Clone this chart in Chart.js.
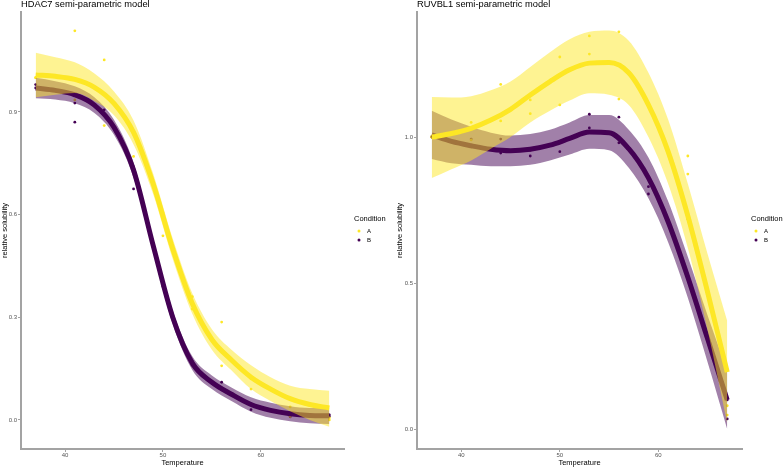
<!DOCTYPE html>
<html>
<head>
<meta charset="utf-8">
<script src="https://cdn.jsdelivr.net/npm/chart.js@4.4.1/dist/chart.umd.min.js"></script>
<style>
html, body { margin: 0; padding: 0; background: #fff; }
#wrap { position: relative; width: 783px; height: 467px; overflow: hidden; }
canvas { position: absolute; top: 0; }
</style>
</head>
<body>
<div id="wrap">
<canvas id="hdac" width="391" height="467" style="left:0"></canvas>
<canvas id="ruvbl" width="392" height="467" style="left:391px"></canvas>
</div>
<script>
// data
const conditions = ['A', 'B'];
const xTicks = [40, 50, 60];
const fitT = [37, 39, 41, 43, 45, 47, 49, 51, 53, 55, 57, 59, 61, 63, 65, 67];
const ptT = [37, 37, 41, 41, 44, 44, 47, 47, 50, 50, 53, 53, 56, 56, 59, 59, 63, 63, 67, 67];

// HDAC7
const hdacYTicks = [0.0, 0.3, 0.6, 0.9];
const hdacPtsA = [1.0, 1.0, 1.137, 0.935, 1.052, 0.86, 0.838, 0.77, 0.605, 0.538, 0.324, 0.36, 0.286, 0.158, 0.12, 0.09, 0.038, 0.01, 0.006, 0.0];
const hdacPtsB = [0.98, 0.97, 0.926, 0.87, 0.906, 0.89, 0.739, 0.675, 0.39, 0.40, 0.17, 0.16, 0.11, 0.088, 0.047, 0.03, 0.02, 0.009, 0.01, 0.015];
const hdacFitA = [1.008, 1.004, 0.995, 0.972, 0.925, 0.84, 0.69, 0.50, 0.34, 0.235, 0.175, 0.125, 0.09, 0.062, 0.045, 0.035];
const hdacHiA = [1.073, 1.06, 1.045, 1.012, 0.96, 0.875, 0.72, 0.53, 0.37, 0.265, 0.205, 0.16, 0.125, 0.10, 0.09, 0.085];
const hdacLoA = [0.943, 0.95, 0.955, 0.932, 0.89, 0.805, 0.66, 0.47, 0.31, 0.205, 0.145, 0.09, 0.055, 0.025, 0.0, -0.02];
const hdacFitB = [0.97, 0.963, 0.95, 0.92, 0.855, 0.73, 0.51, 0.30, 0.166, 0.11, 0.075, 0.045, 0.028, 0.018, 0.013, 0.012];
const hdacHiB = [1.0, 0.99, 0.975, 0.943, 0.877, 0.752, 0.53, 0.32, 0.186, 0.13, 0.095, 0.066, 0.05, 0.04, 0.035, 0.035];
const hdacLoB = [0.94, 0.936, 0.925, 0.897, 0.833, 0.708, 0.49, 0.28, 0.146, 0.09, 0.055, 0.024, 0.006, -0.004, -0.01, -0.012];

// RUVBL1
const ruvYTicks = [0.0, 0.5, 1.0];
const ruvPtsA = [1.0, 1.0, 1.05, 0.99, 1.18, 1.055, 1.127, 1.08, 1.274, 1.11, 1.346, 1.284, 1.36, 1.13, 1.116, 0.856, 0.935, 0.873, 0.08, 0.048];
const ruvPtsB = [1.0, 1.0, 0.993, 0.97, 0.993, 0.945, 0.955, 0.935, 0.983, 0.95, 1.078, 1.031, 1.068, 0.98, 0.83, 0.805, 0.72, 0.516, 0.1, 0.035];
const ruvFitA = [1.0, 1.012, 1.03, 1.058, 1.095, 1.144, 1.19, 1.23, 1.253, 1.255, 1.22, 1.11, 0.95, 0.73, 0.47, 0.195];
const ruvHiA = [1.137, 1.135, 1.14, 1.16, 1.19, 1.24, 1.29, 1.335, 1.36, 1.365, 1.33, 1.22, 1.06, 0.84, 0.6, 0.37];
const ruvLoA = [0.86, 0.89, 0.92, 0.96, 1.0, 1.05, 1.09, 1.125, 1.15, 1.145, 1.11, 1.0, 0.84, 0.62, 0.34, 0.02];
const ruvFitB = [1.007, 0.985, 0.97, 0.958, 0.953, 0.958, 0.972, 0.995, 1.017, 1.015, 0.96, 0.86, 0.71, 0.52, 0.31, 0.1];
const ruvHiB = [1.09, 1.06, 1.035, 1.015, 1.005, 1.01, 1.025, 1.05, 1.075, 1.075, 1.025, 0.93, 0.78, 0.59, 0.39, 0.2];
const ruvLoB = [0.925, 0.91, 0.905, 0.9, 0.9, 0.905, 0.92, 0.94, 0.96, 0.955, 0.895, 0.79, 0.64, 0.45, 0.23, 0.0];

const colA = '#FDE725';
const colB = '#440154';
const bandA = 'rgba(253, 231, 37, 0.5)';
const bandB = 'rgba(68, 1, 84, 0.5)';
const axisGrey = '#a3a3a3';
const FONT = '"Liberation Sans", Arial, sans-serif';

Chart.defaults.font.family = FONT;

const xy = (xs, ys) => xs.map((x, i) => ({ x: x, y: ys[i] }));

// title + legend, ggplot style
const panelDeco = {
    id: 'panelDeco',
    afterDraw(chart, args, opts) {
        const ctx = chart.ctx;
        ctx.save();
        ctx.textBaseline = 'middle';
        ctx.textAlign = 'left';
        ctx.fillStyle = '#000';
        ctx.font = '9.3px ' + FONT;
        ctx.fillText(opts.title, chart.chartArea.left, 4);
        ctx.font = '7.5px ' + FONT;
        ctx.fillText('Condition', opts.legendX, 219);
        [colA, colB].forEach((c, i) => {
            const y = 231 + i * 9;
            ctx.fillStyle = c;
            ctx.beginPath();
            ctx.arc(opts.legendX + 5, y, 1.5, 0, Math.PI * 2);
            ctx.fill();
            ctx.fillStyle = '#000';
            ctx.font = '6px ' + FONT;
            ctx.fillText(conditions[i], opts.legendX + 13, y);
        });
        ctx.restore();
    }
};

function fitLine(ys, col) {
    return { data: xy(fitT, ys), borderColor: col, borderWidth: 5, pointRadius: 0,
             cubicInterpolationMode: 'monotone', fill: false };
}
function bandHi(ys, col) {
    return { data: xy(fitT, ys), borderColor: 'rgba(0,0,0,0)', borderWidth: 0, pointRadius: 0,
             cubicInterpolationMode: 'monotone', backgroundColor: col, fill: '+1' };
}
function bandLo(ys) {
    return { data: xy(fitT, ys), borderColor: 'rgba(0,0,0,0)', borderWidth: 0, pointRadius: 0,
             cubicInterpolationMode: 'monotone', fill: false };
}
function points(ys, col) {
    return { data: xy(ptT, ys), showLine: false, pointRadius: 1.4, pointBorderWidth: 0,
             pointBackgroundColor: col, pointHoverRadius: 0 };
}

function makeChart(id, p) {
    new Chart(document.getElementById(id), {
        type: 'line',
        data: {
            // first dataset is drawn on top
            datasets: [
                fitLine(p.fitA, colA), bandHi(p.hiA, bandA), bandLo(p.loA),
                fitLine(p.fitB, colB), bandHi(p.hiB, bandB), bandLo(p.loB),
                points(p.ptsA, colA), points(p.ptsB, colB)
            ]
        },
        options: {
            responsive: false,
            animation: false,
            devicePixelRatio: 1,
            layout: { padding: { top: 12, right: p.padRight, bottom: 0, left: p.padLeft } },
            plugins: {
                legend: { display: false },
                tooltip: { enabled: false },
                panelDeco: { title: p.title, legendX: p.legendX }
            },
            scales: {
                x: {
                    type: 'linear', min: 35.5, max: 68.5,
                    afterBuildTicks: s => { s.ticks = xTicks.map(v => ({ value: v })); },
                    afterFit: s => { s.height = 18; },
                    border: { color: axisGrey, width: 2 },
                    grid: { drawOnChartArea: false, drawTicks: true, tickLength: 3, color: axisGrey },
                    ticks: { font: { size: 6 }, color: '#555', padding: 0, maxRotation: 0 },
                    title: { display: true, text: 'Temperature', font: { size: 7.5 }, color: '#000', padding: 0 }
                },
                y: {
                    type: 'linear', min: p.yMin, max: p.yMax,
                    afterBuildTicks: s => { s.ticks = p.yTicks.map(v => ({ value: v })); },
                    afterFit: s => { s.width = p.yWidth; },
                    border: { color: axisGrey, width: 2 },
                    grid: { drawOnChartArea: false, drawTicks: true, tickLength: 3, color: axisGrey },
                    ticks: { font: { size: 6 }, color: '#555', padding: 1, callback: v => v.toFixed(1) },
                    title: { display: true, text: 'relative solubility', font: { size: 7.5 }, color: '#000', padding: 0 }
                }
            }
        },
        plugins: [panelDeco]
    });
}

makeChart('hdac', {
    title: 'HDAC7 semi-parametric model',
    fitA: hdacFitA, hiA: hdacHiA, loA: hdacLoA,
    fitB: hdacFitB, hiB: hdacHiB, loB: hdacLoB,
    ptsA: hdacPtsA, ptsB: hdacPtsB,
    yMin: -0.085, yMax: 1.192, yTicks: hdacYTicks,
    padLeft: 0, yWidth: 21, padRight: 47, legendX: 354
});

makeChart('ruvbl', {
    title: 'RUVBL1 semi-parametric model',
    fitA: ruvFitA, hiA: ruvHiA, loA: ruvLoA,
    fitB: ruvFitB, hiB: ruvHiB, loB: ruvLoB,
    ptsA: ruvPtsA, ptsB: ruvPtsB,
    yMin: -0.068, yMax: 1.428, yTicks: ruvYTicks,
    padLeft: 4, yWidth: 22, padRight: 41, legendX: 360
});
</script>
</body>
</html>
